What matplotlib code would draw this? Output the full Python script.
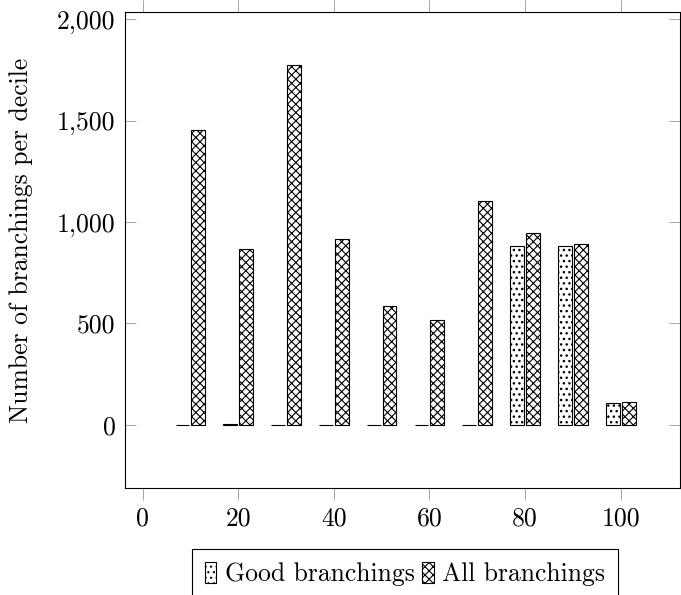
import numpy as np
import matplotlib
matplotlib.use("Agg")
import matplotlib.pyplot as plt

# ---------- data ----------
deciles = [10, 20, 30, 40, 50, 60, 70, 80, 90, 100]
good_branchings = [0, 4, 0, 0, 0, 0, 0, 882, 884, 106]
all_branchings = [1452, 865, 1776, 915, 584, 515, 1103, 948, 893, 112]

x_ticks = [0, 20, 40, 60, 80, 100]
y_ticks = [0, 500, 1000, 1500, 2000]
y_tick_labels = ['0', '500', '1,000', '1,500', '2,000']

# ---------- style ----------
plt.rcParams['font.family'] = ['cmr10', 'DejaVu Serif']
plt.rcParams['axes.unicode_minus'] = False
plt.rcParams['hatch.color'] = 'black'
fs = 18.5

fig = plt.figure(figsize=(6.81, 5.95), dpi=100)
ax = fig.add_axes([0.184, 0.180, 0.8145, 0.800])

x = np.array(deciles, dtype=float)
width = 2.9
shift = 1.65

plt.rcParams['hatch.linewidth'] = 1.0
ax.bar(x - shift, good_branchings, width, color='white', edgecolor='black',
       linewidth=0.8, hatch='...', label='Good branchings')
plt.rcParams['hatch.linewidth'] = 0.8
ax.bar(x + shift, all_branchings, width, color='white', edgecolor='black',
       linewidth=0.8, hatch='xxxx', label='All branchings')

# --- x axis ---
ax.set_xlim(-3.6, 112.4)
ax.set_xticks(x_ticks)
ax.set_xticklabels([str(v) for v in x_ticks], fontsize=fs)
ax.tick_params(axis='x', which='major', direction='out', length=8.5, width=0.6,
               color='#999999', top=True, bottom=True, pad=5)

# --- y axis ---
ax.set_ylim(-311, 2037)
ax.set_yticks(y_ticks)
ax.set_yticklabels(y_tick_labels, fontsize=fs)
ax.tick_params(axis='y', which='major', direction='in', length=8, width=0.6,
               color='#999999', left=True, right=True, pad=7)
ax.set_ylabel('Number of branchings per decile', fontsize=fs)
ax.yaxis.set_label_coords(-0.166, 0.52)

for s in ax.spines.values():
    s.set_linewidth(0.8)
    s.set_color('black')

# --- legend below the plot ---
leg = fig.legend(loc='upper center', bbox_to_anchor=(405 / 681, 1 - 549 / 595),
                 ncol=2, fontsize=fs, frameon=True, fancybox=False,
                 edgecolor='black', framealpha=1.0,
                 handlelength=0.45, handleheight=0.9, handletextpad=0.32,
                 columnspacing=0.3, borderpad=0.5, borderaxespad=0)
leg.get_frame().set_linewidth(0.8)

fig.savefig('out.png', dpi=100, facecolor='white')
